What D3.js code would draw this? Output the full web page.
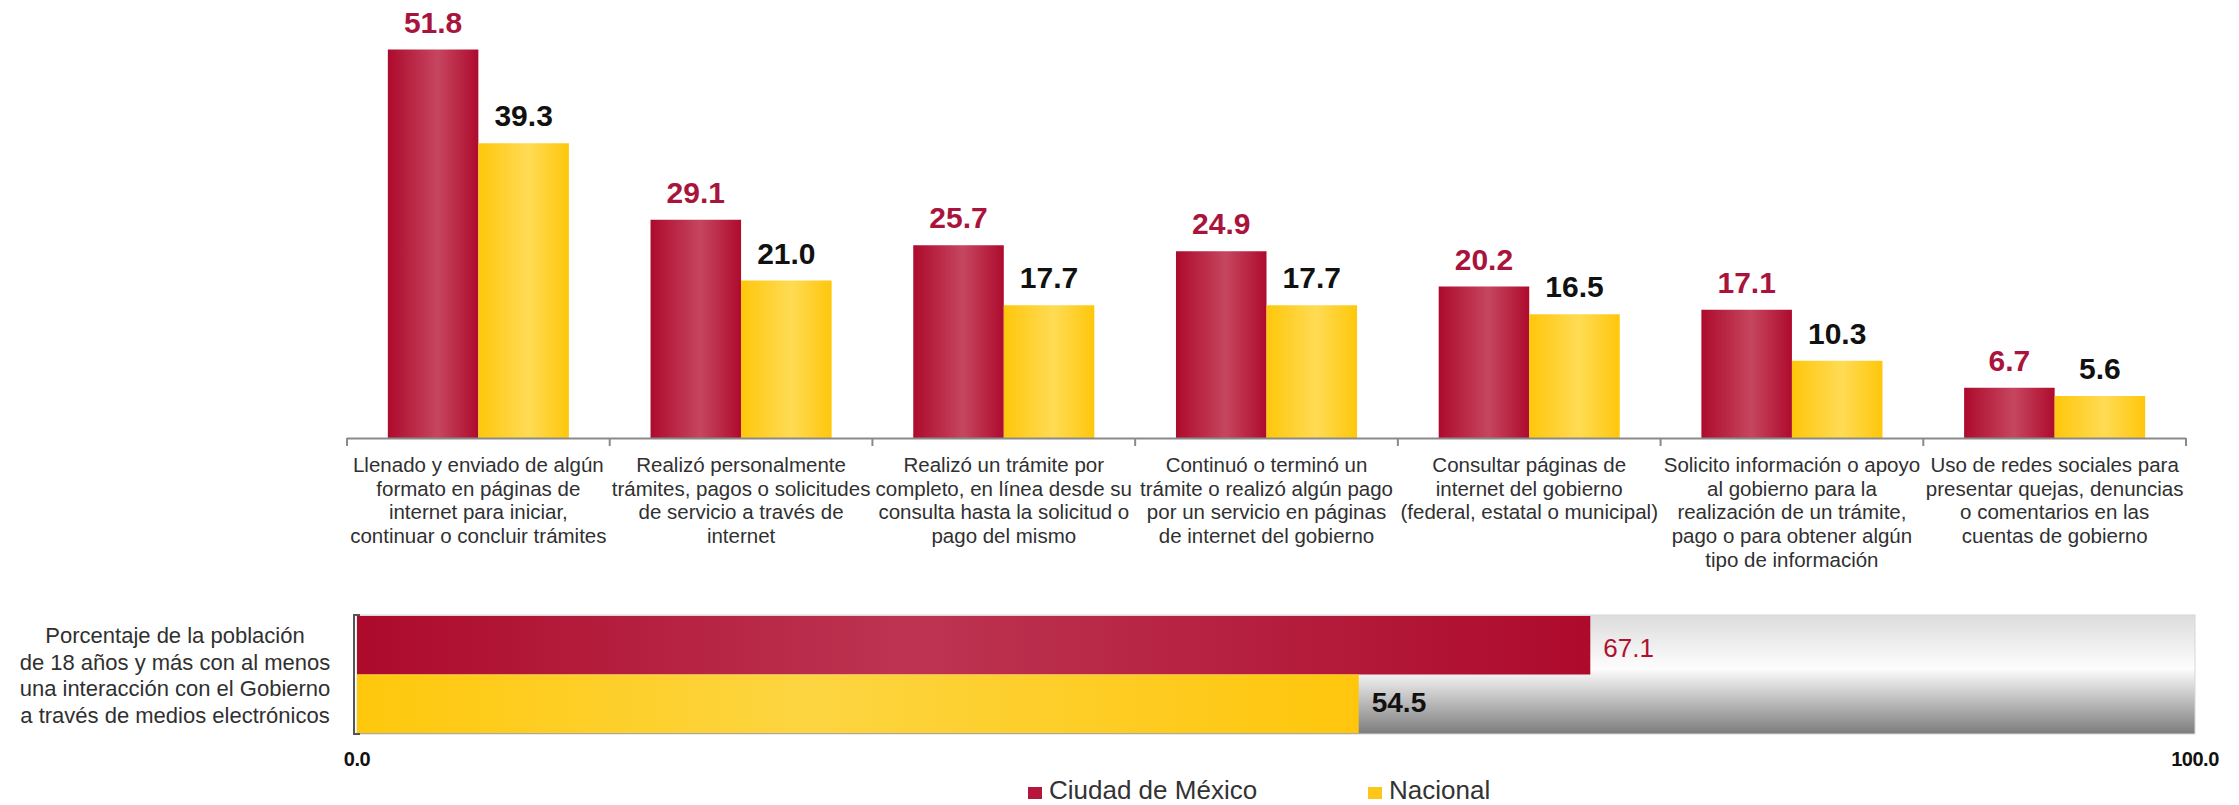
<!DOCTYPE html>
<html>
<head>
<meta charset="utf-8">
<script src="https://cdn.jsdelivr.net/npm/d3@7"></script>
<style>
  html, body { margin: 0; padding: 0; background: #ffffff; }
  svg { display: block; font-family: "Liberation Sans", Arial, sans-serif; }
</style>
</head>
<body>
<svg id="chart" width="2239" height="805"></svg>
<script>
// ---------- DATA ----------
const categories = [
  "Llenado y enviado de algún|formato en páginas de|internet para iniciar,|continuar o concluir trámites",
  "Realizó personalmente|trámites, pagos o solicitudes|de servicio a través de|internet",
  "Realizó un trámite por|completo, en línea desde su|consulta hasta la solicitud o|pago del mismo",
  "Continuó o terminó un|trámite o realizó algún pago|por un servicio en páginas|de internet del gobierno",
  "Consultar páginas de|internet del gobierno|(federal, estatal o municipal)",
  "Solicito información o apoyo|al gobierno para la|realización de un trámite,|pago o para obtener algún|tipo de información",
  "Uso de redes sociales para|presentar quejas, denuncias|o comentarios en las|cuentas de gobierno"
];
const seriesNames = ["Ciudad de México", "Nacional"];
const cdmxValues = [51.8, 29.1, 25.7, 24.9, 20.2, 17.1, 6.7];
const nacionalValues = [39.3, 21.0, 17.7, 17.7, 16.5, 10.3, 5.6];

const summaryLabel = [
  "Porcentaje de la población",
  "de 18 años y más con al menos",
  "una interacción con el Gobierno",
  "a través de medios electrónicos"
];
const summaryValues = [67.1, 54.5];
const summaryTicks = [0, 100];

// ---------- SETUP ----------
const svg = d3.select("#chart");
const defs = svg.append("defs");
const fmt = d3.format(".1f");

function hGrad(id, stops) {
  const g = defs.append("linearGradient").attr("id", id)
    .attr("x1", "0%").attr("y1", "0%").attr("x2", "100%").attr("y2", "0%");
  stops.forEach(s => g.append("stop").attr("offset", s[0]).attr("stop-color", s[1]));
}
hGrad("gRed", [["0%", "#ad0a2d"], ["55%", "#c6465f"], ["100%", "#ae0b2e"]]);
hGrad("gYel", [["0%", "#ffc70b"], ["55%", "#ffdb55"], ["100%", "#ffc70b"]]);
hGrad("gRedH", [["0%", "#ad0a2c"], ["45%", "#bd3452"], ["100%", "#ae0a2c"]]);
hGrad("gYelH", [["0%", "#ffc80c"], ["45%", "#fdd541"], ["100%", "#ffc60c"]]);
const gv = defs.append("linearGradient").attr("id", "gBg")
  .attr("x1", "0%").attr("y1", "0%").attr("x2", "0%").attr("y2", "100%");
[["0%", "#dcdcdc"], ["45%", "#fdfdfd"], ["100%", "#7c7c7c"]].forEach(s =>
  gv.append("stop").attr("offset", s[0]).attr("stop-color", s[1]));

const fills = ["url(#gRed)", "url(#gYel)"];
const labelColors = ["#a9143c", "#111111"];

// ---------- TOP GROUPED BAR CHART ----------
const x0 = d3.scaleBand().domain(d3.range(categories.length)).range([347, 2186]).padding(0);
const x1 = d3.scaleBand().domain([0, 1]).range([0, x0.bandwidth()]).paddingInner(0).paddingOuter(0.451);
const y = d3.scaleLinear().domain([0, 55]).range([438, 25.5]);

const seriesValues = [cdmxValues, nacionalValues];

const groups = svg.append("g").selectAll("g")
  .data(categories).join("g")
  .attr("transform", (d, i) => `translate(${x0(i)},0)`);

groups.each(function(d, i) {
  const g = d3.select(this);
  seriesValues.forEach((vals, s) => {
    const v = vals[i];
    g.append("rect")
      .attr("x", x1(s)).attr("width", x1.bandwidth())
      .attr("y", y(v)).attr("height", y(0) - y(v))
      .attr("fill", fills[s]);
    g.append("text")
      .attr("x", x1(s) + x1.bandwidth() / 2)
      .attr("y", y(v) - 17)
      .attr("text-anchor", "middle")
      .attr("font-size", 30).attr("font-weight", "bold")
      .attr("fill", labelColors[s])
      .text(fmt(v));
  });
});

// axis line with boundary ticks
const axisG = svg.append("g");
axisG.append("line")
  .attr("x1", x0.range()[0]).attr("x2", x0.range()[1])
  .attr("y1", y(0) + 0.5).attr("y2", y(0) + 0.5)
  .attr("stroke", "#8a8a8a").attr("stroke-width", 2);
const bounds = d3.range(categories.length).map(i => x0(i)).concat([x0.range()[1]]);
axisG.selectAll("line.tick").data(bounds).join("line").attr("class", "tick")
  .attr("x1", d => d).attr("x2", d => d)
  .attr("y1", y(0)).attr("y2", y(0) + 8)
  .attr("stroke", "#8a8a8a").attr("stroke-width", 2);

// category labels
const catText = svg.append("g").selectAll("text")
  .data(categories).join("text")
  .attr("text-anchor", "middle")
  .attr("font-size", 20.5).attr("fill", "#303030");
catText.each(function(d, i) {
  const t = d3.select(this);
  d.split("|").forEach((line, k) => {
    t.append("tspan")
      .attr("x", x0(i) + x0.bandwidth() / 2)
      .attr("y", 472 + k * 23.7)
      .text(line);
  });
});

// ---------- BOTTOM SUMMARY BAR ----------
const xs = d3.scaleLinear().domain([0, 100]).range([357, 2195]);
const ys = d3.scaleBand().domain([0, 1]).range([616, 733]).padding(0);

svg.append("rect")
  .attr("x", xs(0)).attr("width", xs(100) - xs(0))
  .attr("y", ys.range()[0] - 1).attr("height", ys.range()[1] - ys.range()[0] + 2)
  .attr("fill", "url(#gBg)").attr("stroke", "#d6d6d6").attr("stroke-width", 1);

const sFills = ["url(#gRedH)", "url(#gYelH)"];
summaryValues.forEach((v, s) => {
  svg.append("rect")
    .attr("x", xs(0)).attr("width", xs(v) - xs(0))
    .attr("y", ys(s)).attr("height", ys.bandwidth())
    .attr("fill", sFills[s]);
});
svg.append("text")
  .attr("x", xs(summaryValues[0]) + 13).attr("y", 657)
  .attr("font-size", 26).attr("fill", "#b0102f")
  .text(fmt(summaryValues[0]));
svg.append("text")
  .attr("x", xs(summaryValues[1]) + 13).attr("y", 712)
  .attr("font-size", 28).attr("font-weight", "bold").attr("fill", "#111")
  .text(fmt(summaryValues[1]));

// left bracket
svg.append("path")
  .attr("d", `M${xs(0) + 3},${ys.range()[0] - 1} H${xs(0) - 3} V${ys.range()[1] + 1} H${xs(0) + 3}`)
  .attr("fill", "none").attr("stroke", "#555").attr("stroke-width", 2);

// ticks 0.0 and 100.0
svg.append("g").selectAll("text").data(summaryTicks).join("text")
  .attr("x", d => xs(d)).attr("y", 766)
  .attr("text-anchor", "middle")
  .attr("font-size", 20).attr("font-weight", "bold").attr("fill", "#111")
  .attr("letter-spacing", -0.5)
  .text(d => fmt(d));

// summary label
const sl = svg.append("text").attr("text-anchor", "middle")
  .attr("font-size", 22).attr("fill", "#303030");
summaryLabel.forEach((line, k) => {
  sl.append("tspan").attr("x", 175).attr("y", 643 + k * 26.5).text(line);
});

// ---------- LEGEND ----------
const legendX = [1028, 1368];
const legendColors = ["#b5163b", "#ffc61a"];
const lg = svg.append("g").selectAll("g").data(seriesNames).join("g")
  .attr("transform", (d, i) => `translate(${legendX[i]},0)`);
lg.append("rect").attr("x", 0).attr("y", 787).attr("width", 14).attr("height", 12)
  .attr("fill", (d, i) => legendColors[i]);
lg.append("text").attr("x", 21).attr("y", 799)
  .attr("font-size", 26).attr("fill", "#333")
  .text(d => d);
</script>
</body>
</html>
